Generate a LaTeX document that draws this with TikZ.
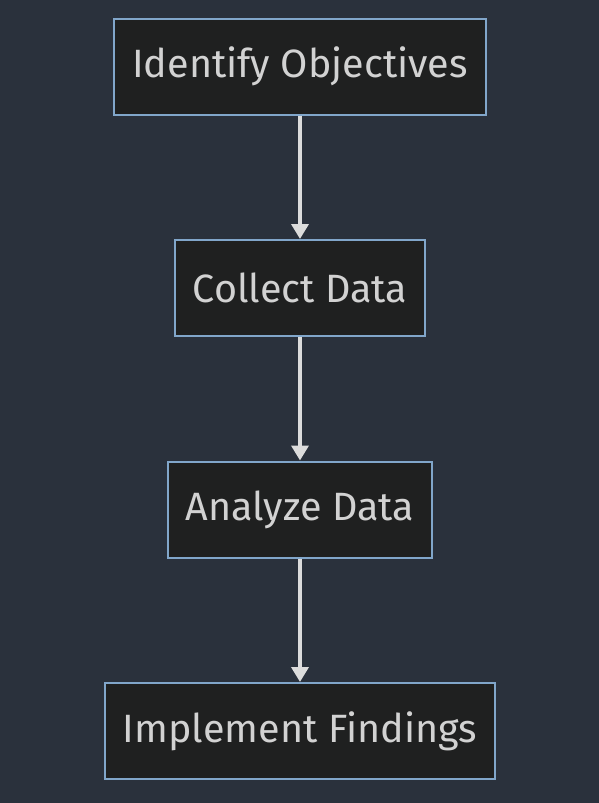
\documentclass[tikz,border=0pt]{standalone}
\usepackage{fontspec}
\setmainfont{Fira Sans}
\usepackage{tikz}
\usetikzlibrary{positioning,arrows.meta}
\definecolor{bgcol}{HTML}{2A313C}
\definecolor{boxfill}{HTML}{1F2020}
\definecolor{boxline}{HTML}{81A6CA}
\definecolor{txtcol}{HTML}{D2D2D2}
\definecolor{arrowcol}{HTML}{DCDCDC}
\begin{document}
\begin{tikzpicture}
        [
            x = 1pt, y = 1pt,
            stepbox/.style = {draw = boxline, fill = boxfill, line width = 2pt,
                text = txtcol, font = \fontsize{39.5}{46}\selectfont,
                minimum height = 96pt, inner xsep = 18pt},
            flow/.style = {draw = arrowcol, line width = 3.6pt,
                -{Triangle[length = 15pt, width = 17pt]}},
            node distance = 123.5pt
        ]
        \fill[bgcol] (0,0) rectangle (599,-803);
        \useasboundingbox (0,0) rectangle (599,-803);

        \node[stepbox] (objectives) at (300,-66.5) {Identify Objectives};
        \node[stepbox, below = of objectives] (collect) {Collect Data};
        \node[stepbox, below = of collect] (analyze) {Analyze Data};
        \node[stepbox, below = of analyze] (implement) {Implement Findings};

        \draw[flow] (objectives) -- (collect);
        \draw[flow] (collect) -- (analyze);
        \draw[flow] (analyze) -- (implement);
        \end{tikzpicture}
\end{document}
